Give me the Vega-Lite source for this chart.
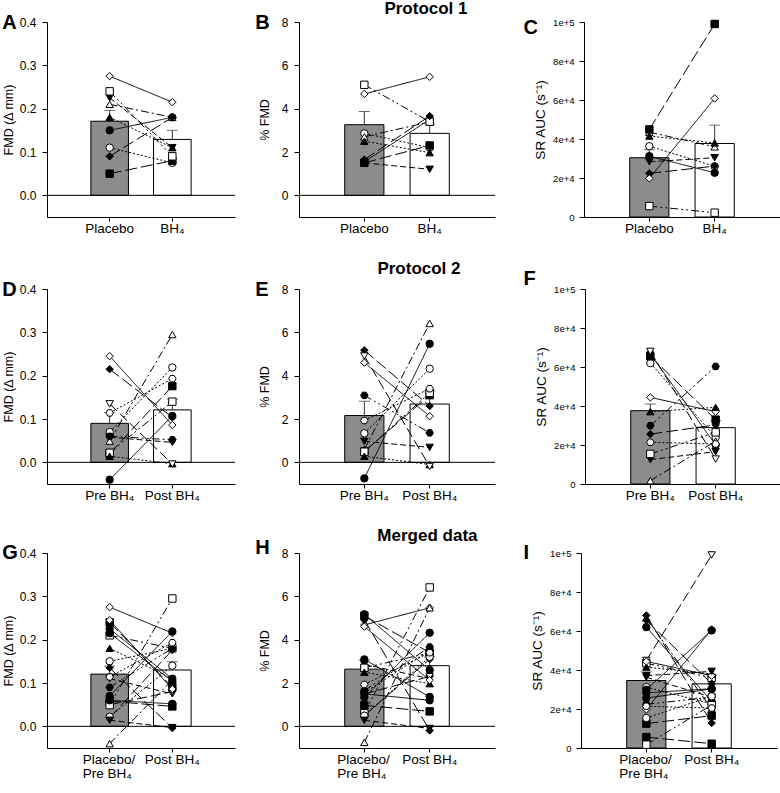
{
"$schema": "https://vega.github.io/schema/vega-lite/v6.json",
"padding": {"left": 2, "top": 0, "right": 0, "bottom": 0},
"config": {
 "font": "Liberation Sans",
 "view": {"stroke": null},
 "axis": {"domainColor": "black", "tickColor": "black", "labelColor": "black", "titleColor": "black", "grid": false, "titleFontWeight": "normal", "domainWidth": 1, "tickWidth": 1, "labelFont": "Liberation Sans", "titleFont": "Liberation Sans"},
 "title": {"color": "black", "font": "Liberation Sans", "fontWeight": "bold", "baseline": "alphabetic"}
},
"datasets": {
 "bars": [
  {"p": "A", "c": "pre", "mean": 0.171, "hi": 0.196}, {"p": "A", "c": "post", "mean": 0.129, "hi": 0.150},
  {"p": "B", "c": "pre", "mean": 3.26, "hi": 3.87}, {"p": "B", "c": "post", "mean": 2.86, "hi": 3.3},
  {"p": "C", "c": "pre", "mean": 30400, "hi": 34500}, {"p": "C", "c": "post", "mean": 37700, "hi": 47100},
  {"p": "D", "c": "pre", "mean": 0.09, "hi": 0.115}, {"p": "D", "c": "post", "mean": 0.121, "hi": 0.146},
  {"p": "E", "c": "pre", "mean": 2.16, "hi": 2.82}, {"p": "E", "c": "post", "mean": 2.69, "hi": 3.3},
  {"p": "F", "c": "pre", "mean": 37600, "hi": 41000}, {"p": "F", "c": "post", "mean": 28900, "hi": 32500},
  {"p": "G", "c": "pre", "mean": 0.1205, "hi": 0.139}, {"p": "G", "c": "post", "mean": 0.13, "hi": 0.149},
  {"p": "H", "c": "pre", "mean": 2.64, "hi": 3.05}, {"p": "H", "c": "post", "mean": 2.80, "hi": 3.2},
  {"p": "I", "c": "pre", "mean": 34600, "hi": 39000}, {"p": "I", "c": "post", "mean": 32900, "hi": 37500}
 ],
 "sub": [
  {"g": "1", "s": "1", "m": "2", "c": "pre", "fmd": 0.15, "pct": 1.55, "sr": 31200},
  {"g": "1", "s": "1", "m": "2", "c": "post", "fmd": 0.18, "pct": 3.5, "sr": 22700},
  {"g": "1", "s": "2", "m": "3", "c": "pre", "fmd": 0.11, "pct": 2.86, "sr": 36300},
  {"g": "1", "s": "2", "m": "3", "c": "post", "fmd": 0.075, "pct": 2.2, "sr": 26000},
  {"g": "1", "s": "3", "m": "1", "c": "pre", "fmd": 0.225, "pct": 1.5, "sr": 28300},
  {"g": "1", "s": "3", "m": "1", "c": "post", "fmd": 0.11, "pct": 1.2, "sr": 30400},
  {"g": "1", "s": "4", "m": "6", "c": "pre", "fmd": 0.21, "pct": 2.7, "sr": 43500},
  {"g": "1", "s": "4", "m": "6", "c": "post", "fmd": 0.18, "pct": 3.39, "sr": 36000},
  {"g": "1", "s": "5", "m": "10", "c": "pre", "fmd": 0.05, "pct": 1.5, "sr": 44900},
  {"g": "1", "s": "5", "m": "10", "c": "post", "fmd": 0.08, "pct": 2.3, "sr": 99000},
  {"g": "1", "s": "6", "m": "5", "c": "pre", "fmd": 0.24, "pct": 5.1, "sr": 5600},
  {"g": "1", "s": "6", "m": "5", "c": "post", "fmd": 0.09, "pct": 3.4, "sr": 2200},
  {"g": "1", "s": "7", "m": "11", "c": "pre", "fmd": 0.09, "pct": 1.65, "sr": 22400},
  {"g": "1", "s": "7", "m": "11", "c": "post", "fmd": 0.18, "pct": 3.66, "sr": 26100},
  {"g": "1", "s": "8", "m": "8", "c": "pre", "fmd": 0.275, "pct": 4.68, "sr": 19800},
  {"g": "1", "s": "8", "m": "8", "c": "post", "fmd": 0.215, "pct": 5.47, "sr": 60800},
  {"g": "1", "s": "9", "m": "9", "c": "pre", "fmd": 0.18, "pct": 2.5, "sr": 41500},
  {"g": "1", "s": "9", "m": "9", "c": "post", "fmd": 0.11, "pct": 1.97, "sr": 38000},
  {"g": "2", "s": "1", "m": "4", "c": "pre", "fmd": -0.04, "pct": -0.74, "sr": 66700},
  {"g": "2", "s": "1", "m": "4", "c": "post", "fmd": 0.107, "pct": 5.47, "sr": 20000},
  {"g": "2", "s": "2", "m": "1", "c": "pre", "fmd": 0.07, "pct": 1.34, "sr": 62000},
  {"g": "2", "s": "2", "m": "1", "c": "post", "fmd": 0.219, "pct": 4.32, "sr": 23900},
  {"g": "2", "s": "3", "m": "5", "c": "pre", "fmd": 0.058, "pct": 0.97, "sr": 12500},
  {"g": "2", "s": "3", "m": "5", "c": "post", "fmd": 0.046, "pct": 0.69, "sr": 16600},
  {"g": "2", "s": "4", "m": "6", "c": "pre", "fmd": 0.049, "pct": 0.6, "sr": 1700},
  {"g": "2", "s": "4", "m": "6", "c": "post", "fmd": 0.295, "pct": 6.41, "sr": 22000},
  {"g": "2", "s": "5", "m": "7", "c": "pre", "fmd": 0.02, "pct": 0.5, "sr": 65500},
  {"g": "2", "s": "5", "m": "7", "c": "post", "fmd": 0.176, "pct": 3.1, "sr": 33000},
  {"g": "2", "s": "6", "m": "2", "c": "pre", "fmd": 0.022, "pct": 0.49, "sr": 15400},
  {"g": "2", "s": "6", "m": "2", "c": "post", "fmd": 0.14, "pct": 3.21, "sr": 26500},
  {"g": "2", "s": "7", "m": "1", "c": "pre", "fmd": 0.215, "pct": 5.17, "sr": 25600},
  {"g": "2", "s": "7", "m": "1", "c": "post", "fmd": 0.104, "pct": 2.6, "sr": 30300},
  {"g": "2", "s": "8", "m": "8", "c": "pre", "fmd": 0.245, "pct": 4.6, "sr": 44400},
  {"g": "2", "s": "8", "m": "8", "c": "post", "fmd": 0.086, "pct": 2.13, "sr": 37100},
  {"g": "2", "s": "9", "m": "3", "c": "pre", "fmd": 0.014, "pct": 0.28, "sr": 37100},
  {"g": "2", "s": "9", "m": "3", "c": "post", "fmd": -0.003, "pct": -0.1, "sr": 39300},
  {"g": "2", "s": "10", "m": "7", "c": "pre", "fmd": 0.135, "pct": 4.91, "sr": 68000},
  {"g": "2", "s": "10", "m": "7", "c": "post", "fmd": -0.004, "pct": -0.19, "sr": 12800},
  {"g": "2", "s": "11", "m": "1", "c": "pre", "fmd": 0.06, "pct": 3.09, "sr": 29900},
  {"g": "2", "s": "11", "m": "1", "c": "post", "fmd": 0.052, "pct": 1.36, "sr": 60300},
  {"g": "2", "s": "12", "m": "12", "c": "pre", "fmd": 0.114, "pct": 1.93, "sr": 21400},
  {"g": "2", "s": "12", "m": "12", "c": "post", "fmd": 0.193, "pct": 3.4, "sr": 20500}
 ]
},
"spacing": 25,
"align": "none",
"vconcat": [
 {"align": "none", "spacing": 27, "hconcat": [
  {"align": "none", "spacing": 19, "title": {"text": "Protocol 1", "anchor": "end", "frame": "bounds", "dx": -28, "fontSize": 17, "offset": -5}, "hconcat": [
   {"width": 188, "height": 195, "title": {"text": "A", "anchor": "start", "frame": "bounds", "fontSize": 20, "offset": -17}, "layer": [
    {"data": {"name": "bars"}, "transform": [{"filter": "datum.p=='A'"}], "mark": {"type": "bar", "stroke": "black", "strokeWidth": 1},
     "encoding": {"x": {"field": "c", "type": "nominal", "scale": {"domain": ["pre", "post"], "paddingInner": 0.4, "paddingOuter": 0.7}},
      "y": {"field": "mean", "type": "quantitative", "scale": {"domain": [-0.05, 0.4], "nice": false, "zero": false}, "axis": {"values": [0, 0.1, 0.2, 0.3, 0.4], "tickCount": 6, "format": ".1f", "title": "FMD (Δ mm)", "titlePadding": 4, "tickSize": 5, "labelPadding": 6, "labelFontSize": 12, "titleFontSize": 12.5}},
      "y2": {"datum": 0}, "fill": {"condition": {"test": "datum.c=='pre'", "value": "#8c8c8c"}, "value": "white"}}},
    {"data": {"name": "bars"}, "transform": [{"filter": "datum.p=='A'"}], "mark": {"type": "rule", "color": "#333"},
     "encoding": {"x": {"field": "c", "type": "nominal"}, "y": {"field": "mean", "type": "quantitative"}, "y2": {"field": "hi"}}},
    {"data": {"name": "bars"}, "transform": [{"filter": "datum.p=='A'"}], "mark": {"type": "tick", "color": "#333", "size": 11, "thickness": 1},
     "encoding": {"x": {"field": "c", "type": "nominal"}, "y": {"field": "hi", "type": "quantitative"}}},
    {"data": {"name": "bars"}, "transform": [{"filter": "datum.p=='A' && datum.c=='pre'"}], "mark": {"type": "rule", "color": "black", "strokeWidth": 1},
     "encoding": {"y": {"datum": 0, "type": "quantitative"}}},
    {"data": {"name": "sub"}, "transform": [{"filter": "datum.g=='1'"}], "mark": {"type": "line", "color": "black", "strokeWidth": 1},
     "encoding": {"x": {"field": "c", "type": "nominal"}, "y": {"field": "fmd", "type": "quantitative"}, "detail": {"field": "s"},
      "strokeDash": {"field": "s", "type": "nominal", "legend": null, "scale": {"domain": ["1","2","3","4","5","6","7","8","9","10","11","12"], "range": [[1,0],[2,2],[6,3],[8,3,2,3],[12,4],[8,3,2,3,2,3],[12,4],[1,0],[2,2],[10,4],[8,3,2,3,2,3],[2,2]]}}}},
    {"data": {"name": "sub"}, "transform": [{"filter": "datum.g=='1'"}], "mark": {"type": "point", "filled": true, "stroke": "black", "strokeWidth": 1, "opacity": 1, "size": 55},
     "encoding": {"x": {"field": "c", "type": "nominal", "axis": {"title": null, "labelExpr": "datum.value=='pre'?'Placebo':'BH₄'", "tickSize": 4, "labelPadding": 7, "labelFontSize": 13.5, "labelAngle": 0, "labelAlign": "center"}}, "y": {"field": "fmd", "type": "quantitative"},
      "shape": {"field": "s", "type": "nominal", "legend": null, "scale": {"domain": ["1","2","3","4","5","6","7","8","9","10","11","12"], "range": ["circle","circle","triangle-down","triangle-up","square","square","diamond","diamond","triangle-up","triangle-down","M-1,0L-0.5,-0.866L0.5,-0.866L1,0L0.5,0.866L-0.5,0.866Z","M-1,0L-0.5,-0.866L0.5,-0.866L1,0L0.5,0.866L-0.5,0.866Z"]}},
      "fill": {"field": "s", "type": "nominal", "legend": null, "scale": {"domain": ["1","2","3","4","5","6","7","8","9","10","11","12"], "range": ["black","white","black","white","black","white","black","white","black","white","black","white"]}}}}
   ]},
   {"width": 196, "height": 195, "title": {"text": "B", "anchor": "start", "frame": "bounds", "fontSize": 20, "offset": -17, "dx": -3}, "layer": [
    {"data": {"name": "bars"}, "transform": [{"filter": "datum.p=='B'"}], "mark": {"type": "bar", "stroke": "black", "strokeWidth": 1},
     "encoding": {"x": {"field": "c", "type": "nominal", "scale": {"domain": ["pre", "post"], "paddingInner": 0.4, "paddingOuter": 0.7}},
      "y": {"field": "mean", "type": "quantitative", "scale": {"domain": [-1, 8], "nice": false, "zero": false}, "axis": {"values": [0, 2, 4, 6, 8], "tickCount": 6, "title": "% FMD", "titlePadding": 10, "tickSize": 5, "labelPadding": 6, "labelFontSize": 12, "titleFontSize": 12.5}},
      "y2": {"datum": 0}, "fill": {"condition": {"test": "datum.c=='pre'", "value": "#8c8c8c"}, "value": "white"}}},
    {"data": {"name": "bars"}, "transform": [{"filter": "datum.p=='B'"}], "mark": {"type": "rule", "color": "#333"},
     "encoding": {"x": {"field": "c", "type": "nominal"}, "y": {"field": "mean", "type": "quantitative"}, "y2": {"field": "hi"}}},
    {"data": {"name": "bars"}, "transform": [{"filter": "datum.p=='B'"}], "mark": {"type": "tick", "color": "#333", "size": 11, "thickness": 1},
     "encoding": {"x": {"field": "c", "type": "nominal"}, "y": {"field": "hi", "type": "quantitative"}}},
    {"data": {"name": "bars"}, "transform": [{"filter": "datum.p=='B' && datum.c=='pre'"}], "mark": {"type": "rule", "color": "black", "strokeWidth": 1},
     "encoding": {"y": {"datum": 0, "type": "quantitative"}}},
    {"data": {"name": "sub"}, "transform": [{"filter": "datum.g=='1'"}], "mark": {"type": "line", "color": "black", "strokeWidth": 1},
     "encoding": {"x": {"field": "c", "type": "nominal"}, "y": {"field": "pct", "type": "quantitative"}, "detail": {"field": "s"},
      "strokeDash": {"field": "s", "type": "nominal", "legend": null}}},
    {"data": {"name": "sub"}, "transform": [{"filter": "datum.g=='1'"}], "mark": {"type": "point", "filled": true, "stroke": "black", "strokeWidth": 1, "opacity": 1, "size": 55},
     "encoding": {"x": {"field": "c", "type": "nominal", "axis": {"title": null, "labelExpr": "datum.value=='pre'?'Placebo':'BH₄'", "tickSize": 4, "labelPadding": 7, "labelFontSize": 13.5, "labelAngle": 0, "labelAlign": "center"}}, "y": {"field": "pct", "type": "quantitative"},
      "shape": {"field": "s", "type": "nominal", "legend": null}, "fill": {"field": "s", "type": "nominal", "legend": null}}}
   ]}
  ]},
  {"width": 196, "height": 195, "title": {"text": "C", "anchor": "start", "frame": "bounds", "fontSize": 20, "offset": -20.5, "dx": -10}, "layer": [
    {"data": {"name": "bars"}, "transform": [{"filter": "datum.p=='C'"}], "mark": {"type": "bar", "stroke": "black", "strokeWidth": 1},
     "encoding": {"x": {"field": "c", "type": "nominal", "scale": {"domain": ["pre", "post"], "paddingInner": 0.4, "paddingOuter": 0.7}},
      "y": {"field": "mean", "type": "quantitative", "scale": {"domain": [0, 100000], "nice": false, "zero": false}, "axis": {"values": [0, 20000, 40000, 60000, 80000, 100000], "tickCount": 8, "labelExpr": "datum.value==0?'0':datum.value==100000?'1e+5':(datum.value/10000)+'e+4'", "labelOverlap": false, "labelFontSize": 9.5, "labelPadding": 5, "tickSize": 5, "title": "SR AUC (s⁻¹)", "titleFontSize": 13.5, "titlePadding": 5}},
      "y2": {"datum": 0}, "fill": {"condition": {"test": "datum.c=='pre'", "value": "#8c8c8c"}, "value": "white"}}},
    {"data": {"name": "bars"}, "transform": [{"filter": "datum.p=='C'"}], "mark": {"type": "rule", "color": "#333"},
     "encoding": {"x": {"field": "c", "type": "nominal"}, "y": {"field": "mean", "type": "quantitative"}, "y2": {"field": "hi"}}},
    {"data": {"name": "bars"}, "transform": [{"filter": "datum.p=='C'"}], "mark": {"type": "tick", "color": "#333", "size": 11, "thickness": 1},
     "encoding": {"x": {"field": "c", "type": "nominal"}, "y": {"field": "hi", "type": "quantitative"}}},
    {"data": {"name": "sub"}, "transform": [{"filter": "datum.g=='1'"}], "mark": {"type": "line", "color": "black", "strokeWidth": 1},
     "encoding": {"x": {"field": "c", "type": "nominal"}, "y": {"field": "sr", "type": "quantitative"}, "detail": {"field": "s"},
      "strokeDash": {"field": "s", "type": "nominal", "legend": null}}},
    {"data": {"name": "sub"}, "transform": [{"filter": "datum.g=='1'"}], "mark": {"type": "point", "filled": true, "stroke": "black", "strokeWidth": 1, "opacity": 1, "size": 55},
     "encoding": {"x": {"field": "c", "type": "nominal", "axis": {"title": null, "labelExpr": "datum.value=='pre'?'Placebo':'BH₄'", "tickSize": 4, "labelPadding": 7, "labelFontSize": 13.5, "labelAngle": 0, "labelAlign": "center"}}, "y": {"field": "sr", "type": "quantitative"},
      "shape": {"field": "s", "type": "nominal", "legend": null}, "fill": {"field": "s", "type": "nominal", "legend": null}}}
  ]}
 ]},
 {"align": "none", "spacing": 27, "hconcat": [
  {"align": "none", "spacing": 19, "title": {"text": "Protocol 2", "anchor": "end", "frame": "bounds", "dx": -35, "fontSize": 17, "offset": 2}, "hconcat": [
   {"width": 188, "height": 195, "title": {"text": "D", "anchor": "start", "frame": "bounds", "fontSize": 20, "offset": -17}, "layer": [
    {"data": {"name": "bars"}, "transform": [{"filter": "datum.p=='D'"}], "mark": {"type": "bar", "stroke": "black", "strokeWidth": 1},
     "encoding": {"x": {"field": "c", "type": "nominal", "scale": {"domain": ["pre", "post"], "paddingInner": 0.4, "paddingOuter": 0.7}},
      "y": {"field": "mean", "type": "quantitative", "scale": {"domain": [-0.05, 0.4], "nice": false, "zero": false}, "axis": {"values": [0, 0.1, 0.2, 0.3, 0.4], "tickCount": 6, "format": ".1f", "title": "FMD (Δ mm)", "titlePadding": 4, "tickSize": 5, "labelPadding": 6, "labelFontSize": 12, "titleFontSize": 12.5}},
      "y2": {"datum": 0}, "fill": {"condition": {"test": "datum.c=='pre'", "value": "#8c8c8c"}, "value": "white"}}},
    {"data": {"name": "bars"}, "transform": [{"filter": "datum.p=='D'"}], "mark": {"type": "rule", "color": "#333"},
     "encoding": {"x": {"field": "c", "type": "nominal"}, "y": {"field": "mean", "type": "quantitative"}, "y2": {"field": "hi"}}},
    {"data": {"name": "bars"}, "transform": [{"filter": "datum.p=='D'"}], "mark": {"type": "tick", "color": "#333", "size": 11, "thickness": 1},
     "encoding": {"x": {"field": "c", "type": "nominal"}, "y": {"field": "hi", "type": "quantitative"}}},
    {"data": {"name": "bars"}, "transform": [{"filter": "datum.p=='D' && datum.c=='pre'"}], "mark": {"type": "rule", "color": "black", "strokeWidth": 1},
     "encoding": {"y": {"datum": 0, "type": "quantitative"}}},
    {"data": {"name": "sub"}, "transform": [{"filter": "datum.g=='2'"}], "mark": {"type": "line", "color": "black", "strokeWidth": 1},
     "encoding": {"x": {"field": "c", "type": "nominal"}, "y": {"field": "fmd", "type": "quantitative"}, "detail": {"field": "s"},
      "strokeDash": {"field": "s", "type": "nominal", "legend": null}}},
    {"data": {"name": "sub"}, "transform": [{"filter": "datum.g=='2'"}], "mark": {"type": "point", "filled": true, "stroke": "black", "strokeWidth": 1, "opacity": 1, "size": 55},
     "encoding": {"x": {"field": "c", "type": "nominal", "axis": {"title": null, "labelExpr": "datum.value=='pre'?'Pre BH₄':'Post BH₄'", "tickSize": 4, "labelPadding": 7, "labelFontSize": 13.5, "labelAngle": 0, "labelAlign": "center"}}, "y": {"field": "fmd", "type": "quantitative"},
      "shape": {"field": "s", "type": "nominal", "legend": null}, "fill": {"field": "s", "type": "nominal", "legend": null}}}
   ]},
   {"width": 196, "height": 195, "title": {"text": "E", "anchor": "start", "frame": "bounds", "fontSize": 20, "offset": -17, "dx": -3}, "layer": [
    {"data": {"name": "bars"}, "transform": [{"filter": "datum.p=='E'"}], "mark": {"type": "bar", "stroke": "black", "strokeWidth": 1},
     "encoding": {"x": {"field": "c", "type": "nominal", "scale": {"domain": ["pre", "post"], "paddingInner": 0.4, "paddingOuter": 0.7}},
      "y": {"field": "mean", "type": "quantitative", "scale": {"domain": [-1, 8], "nice": false, "zero": false}, "axis": {"values": [0, 2, 4, 6, 8], "tickCount": 6, "title": "% FMD", "titlePadding": 10, "tickSize": 5, "labelPadding": 6, "labelFontSize": 12, "titleFontSize": 12.5}},
      "y2": {"datum": 0}, "fill": {"condition": {"test": "datum.c=='pre'", "value": "#8c8c8c"}, "value": "white"}}},
    {"data": {"name": "bars"}, "transform": [{"filter": "datum.p=='E'"}], "mark": {"type": "rule", "color": "#333"},
     "encoding": {"x": {"field": "c", "type": "nominal"}, "y": {"field": "mean", "type": "quantitative"}, "y2": {"field": "hi"}}},
    {"data": {"name": "bars"}, "transform": [{"filter": "datum.p=='E'"}], "mark": {"type": "tick", "color": "#333", "size": 11, "thickness": 1},
     "encoding": {"x": {"field": "c", "type": "nominal"}, "y": {"field": "hi", "type": "quantitative"}}},
    {"data": {"name": "bars"}, "transform": [{"filter": "datum.p=='E' && datum.c=='pre'"}], "mark": {"type": "rule", "color": "black", "strokeWidth": 1},
     "encoding": {"y": {"datum": 0, "type": "quantitative"}}},
    {"data": {"name": "sub"}, "transform": [{"filter": "datum.g=='2'"}], "mark": {"type": "line", "color": "black", "strokeWidth": 1},
     "encoding": {"x": {"field": "c", "type": "nominal"}, "y": {"field": "pct", "type": "quantitative"}, "detail": {"field": "s"},
      "strokeDash": {"field": "s", "type": "nominal", "legend": null}}},
    {"data": {"name": "sub"}, "transform": [{"filter": "datum.g=='2'"}], "mark": {"type": "point", "filled": true, "stroke": "black", "strokeWidth": 1, "opacity": 1, "size": 55},
     "encoding": {"x": {"field": "c", "type": "nominal", "axis": {"title": null, "labelExpr": "datum.value=='pre'?'Pre BH₄':'Post BH₄'", "tickSize": 4, "labelPadding": 7, "labelFontSize": 13.5, "labelAngle": 0, "labelAlign": "center"}}, "y": {"field": "pct", "type": "quantitative"},
      "shape": {"field": "s", "type": "nominal", "legend": null}, "fill": {"field": "s", "type": "nominal", "legend": null}}}
   ]}
  ]},
  {"width": 196, "height": 195, "title": {"text": "F", "anchor": "start", "frame": "bounds", "fontSize": 20, "offset": -4.75, "dx": -11}, "layer": [
    {"data": {"name": "bars"}, "transform": [{"filter": "datum.p=='F'"}], "mark": {"type": "bar", "stroke": "black", "strokeWidth": 1},
     "encoding": {"x": {"field": "c", "type": "nominal", "scale": {"domain": ["pre", "post"], "paddingInner": 0.4, "paddingOuter": 0.7}},
      "y": {"field": "mean", "type": "quantitative", "scale": {"domain": [0, 100000], "nice": false, "zero": false}, "axis": {"values": [0, 20000, 40000, 60000, 80000, 100000], "tickCount": 8, "labelExpr": "datum.value==0?'0':datum.value==100000?'1e+5':(datum.value/10000)+'e+4'", "labelOverlap": false, "labelFontSize": 9.5, "labelPadding": 5, "tickSize": 5, "title": "SR AUC (s⁻¹)", "titleFontSize": 13.5, "titlePadding": 5}},
      "y2": {"datum": 0}, "fill": {"condition": {"test": "datum.c=='pre'", "value": "#8c8c8c"}, "value": "white"}}},
    {"data": {"name": "bars"}, "transform": [{"filter": "datum.p=='F'"}], "mark": {"type": "rule", "color": "#333"},
     "encoding": {"x": {"field": "c", "type": "nominal"}, "y": {"field": "mean", "type": "quantitative"}, "y2": {"field": "hi"}}},
    {"data": {"name": "bars"}, "transform": [{"filter": "datum.p=='F'"}], "mark": {"type": "tick", "color": "#333", "size": 11, "thickness": 1},
     "encoding": {"x": {"field": "c", "type": "nominal"}, "y": {"field": "hi", "type": "quantitative"}}},
    {"data": {"name": "sub"}, "transform": [{"filter": "datum.g=='2'"}], "mark": {"type": "line", "color": "black", "strokeWidth": 1},
     "encoding": {"x": {"field": "c", "type": "nominal"}, "y": {"field": "sr", "type": "quantitative"}, "detail": {"field": "s"},
      "strokeDash": {"field": "s", "type": "nominal", "legend": null}}},
    {"data": {"name": "sub"}, "transform": [{"filter": "datum.g=='2'"}], "mark": {"type": "point", "filled": true, "stroke": "black", "strokeWidth": 1, "opacity": 1, "size": 55},
     "encoding": {"x": {"field": "c", "type": "nominal", "axis": {"title": null, "labelExpr": "datum.value=='pre'?'Pre BH₄':'Post BH₄'", "tickSize": 4, "labelPadding": 7, "labelFontSize": 13.5, "labelAngle": 0, "labelAlign": "center"}}, "y": {"field": "sr", "type": "quantitative"},
      "shape": {"field": "s", "type": "nominal", "legend": null}, "fill": {"field": "s", "type": "nominal", "legend": null}}}
  ]}
 ]},
 {"align": "none", "spacing": 27, "hconcat": [
  {"align": "none", "spacing": 19, "title": {"text": "Merged data", "anchor": "end", "frame": "bounds", "dx": -18, "fontSize": 17, "offset": -7}, "hconcat": [
   {"width": 188, "height": 195, "title": {"text": "G", "anchor": "start", "frame": "bounds", "fontSize": 20, "offset": -16}, "layer": [
    {"data": {"name": "bars"}, "transform": [{"filter": "datum.p=='G'"}], "mark": {"type": "bar", "stroke": "black", "strokeWidth": 1},
     "encoding": {"x": {"field": "c", "type": "nominal", "scale": {"domain": ["pre", "post"], "paddingInner": 0.4, "paddingOuter": 0.7}},
      "y": {"field": "mean", "type": "quantitative", "scale": {"domain": [-0.05, 0.4], "nice": false, "zero": false}, "axis": {"values": [0, 0.1, 0.2, 0.3, 0.4], "tickCount": 6, "format": ".1f", "title": "FMD (Δ mm)", "titlePadding": 4, "tickSize": 5, "labelPadding": 6, "labelFontSize": 12, "titleFontSize": 12.5}},
      "y2": {"datum": 0}, "fill": {"condition": {"test": "datum.c=='pre'", "value": "#8c8c8c"}, "value": "white"}}},
    {"data": {"name": "bars"}, "transform": [{"filter": "datum.p=='G'"}], "mark": {"type": "rule", "color": "#333"},
     "encoding": {"x": {"field": "c", "type": "nominal"}, "y": {"field": "mean", "type": "quantitative"}, "y2": {"field": "hi"}}},
    {"data": {"name": "bars"}, "transform": [{"filter": "datum.p=='G'"}], "mark": {"type": "tick", "color": "#333", "size": 11, "thickness": 1},
     "encoding": {"x": {"field": "c", "type": "nominal"}, "y": {"field": "hi", "type": "quantitative"}}},
    {"data": {"name": "bars"}, "transform": [{"filter": "datum.p=='G' && datum.c=='pre'"}], "mark": {"type": "rule", "color": "black", "strokeWidth": 1},
     "encoding": {"y": {"datum": 0, "type": "quantitative"}}},
    {"data": {"name": "sub"}, "mark": {"type": "line", "color": "black", "strokeWidth": 1},
     "encoding": {"x": {"field": "c", "type": "nominal"}, "y": {"field": "fmd", "type": "quantitative"}, "detail": [{"field": "g"}, {"field": "s"}],
      "strokeDash": {"field": "m", "type": "nominal", "legend": null}}},
    {"data": {"name": "sub"}, "mark": {"type": "point", "filled": true, "stroke": "black", "strokeWidth": 1, "opacity": 1, "size": 55},
     "encoding": {"x": {"field": "c", "type": "nominal", "axis": {"title": null, "labelExpr": "datum.value=='pre'?['Placebo/','Pre BH₄']:'Post BH₄'", "labelAlign": {"condition": {"test": "datum.value=='pre'", "value": "left"}, "value": "center"}, "labelOffset": {"condition": {"test": "datum.value=='pre'", "value": -27}, "value": 0}, "labelLineHeight": 14, "tickSize": 4, "labelPadding": 7, "labelFontSize": 13.5, "labelAngle": 0}}, "y": {"field": "fmd", "type": "quantitative"},
      "shape": {"field": "m", "type": "nominal", "legend": null}, "fill": {"field": "m", "type": "nominal", "legend": null}}}
   ]},
   {"width": 196, "height": 195, "title": {"text": "H", "anchor": "start", "frame": "bounds", "fontSize": 20, "offset": -11, "dx": -3}, "layer": [
    {"data": {"name": "bars"}, "transform": [{"filter": "datum.p=='H'"}], "mark": {"type": "bar", "stroke": "black", "strokeWidth": 1},
     "encoding": {"x": {"field": "c", "type": "nominal", "scale": {"domain": ["pre", "post"], "paddingInner": 0.4, "paddingOuter": 0.7}},
      "y": {"field": "mean", "type": "quantitative", "scale": {"domain": [-1, 8], "nice": false, "zero": false}, "axis": {"values": [0, 2, 4, 6, 8], "tickCount": 6, "title": "% FMD", "titlePadding": 10, "tickSize": 5, "labelPadding": 6, "labelFontSize": 12, "titleFontSize": 12.5}},
      "y2": {"datum": 0}, "fill": {"condition": {"test": "datum.c=='pre'", "value": "#8c8c8c"}, "value": "white"}}},
    {"data": {"name": "bars"}, "transform": [{"filter": "datum.p=='H'"}], "mark": {"type": "rule", "color": "#333"},
     "encoding": {"x": {"field": "c", "type": "nominal"}, "y": {"field": "mean", "type": "quantitative"}, "y2": {"field": "hi"}}},
    {"data": {"name": "bars"}, "transform": [{"filter": "datum.p=='H'"}], "mark": {"type": "tick", "color": "#333", "size": 11, "thickness": 1},
     "encoding": {"x": {"field": "c", "type": "nominal"}, "y": {"field": "hi", "type": "quantitative"}}},
    {"data": {"name": "bars"}, "transform": [{"filter": "datum.p=='H' && datum.c=='pre'"}], "mark": {"type": "rule", "color": "black", "strokeWidth": 1},
     "encoding": {"y": {"datum": 0, "type": "quantitative"}}},
    {"data": {"name": "sub"}, "mark": {"type": "line", "color": "black", "strokeWidth": 1},
     "encoding": {"x": {"field": "c", "type": "nominal"}, "y": {"field": "pct", "type": "quantitative"}, "detail": [{"field": "g"}, {"field": "s"}],
      "strokeDash": {"field": "m", "type": "nominal", "legend": null}}},
    {"data": {"name": "sub"}, "mark": {"type": "point", "filled": true, "stroke": "black", "strokeWidth": 1, "opacity": 1, "size": 55},
     "encoding": {"x": {"field": "c", "type": "nominal", "axis": {"title": null, "labelExpr": "datum.value=='pre'?['Placebo/','Pre BH₄']:'Post BH₄'", "labelAlign": {"condition": {"test": "datum.value=='pre'", "value": "left"}, "value": "center"}, "labelOffset": {"condition": {"test": "datum.value=='pre'", "value": -27}, "value": 0}, "labelLineHeight": 14, "tickSize": 4, "labelPadding": 7, "labelFontSize": 13.5, "labelAngle": 0}}, "y": {"field": "pct", "type": "quantitative"},
      "shape": {"field": "m", "type": "nominal", "legend": null}, "fill": {"field": "m", "type": "nominal", "legend": null}}}
   ]}
  ]},
  {"width": 196, "height": 195, "title": {"text": "I", "anchor": "start", "frame": "bounds", "fontSize": 20, "offset": -14.5, "dx": -7}, "layer": [
    {"data": {"name": "bars"}, "transform": [{"filter": "datum.p=='I'"}], "mark": {"type": "bar", "stroke": "black", "strokeWidth": 1},
     "encoding": {"x": {"field": "c", "type": "nominal", "scale": {"domain": ["pre", "post"], "paddingInner": 0.4, "paddingOuter": 0.7}},
      "y": {"field": "mean", "type": "quantitative", "scale": {"domain": [0, 100000], "nice": false, "zero": false}, "axis": {"values": [0, 20000, 40000, 60000, 80000, 100000], "tickCount": 8, "labelExpr": "datum.value==0?'0':datum.value==100000?'1e+5':(datum.value/10000)+'e+4'", "labelOverlap": false, "labelFontSize": 9.5, "labelPadding": 5, "tickSize": 5, "title": "SR AUC (s⁻¹)", "titleFontSize": 13.5, "titlePadding": 5}},
      "y2": {"datum": 0}, "fill": {"condition": {"test": "datum.c=='pre'", "value": "#8c8c8c"}, "value": "white"}}},
    {"data": {"name": "bars"}, "transform": [{"filter": "datum.p=='I'"}], "mark": {"type": "rule", "color": "#333"},
     "encoding": {"x": {"field": "c", "type": "nominal"}, "y": {"field": "mean", "type": "quantitative"}, "y2": {"field": "hi"}}},
    {"data": {"name": "bars"}, "transform": [{"filter": "datum.p=='I'"}], "mark": {"type": "tick", "color": "#333", "size": 11, "thickness": 1},
     "encoding": {"x": {"field": "c", "type": "nominal"}, "y": {"field": "hi", "type": "quantitative"}}},
    {"data": {"name": "sub"}, "mark": {"type": "line", "color": "black", "strokeWidth": 1},
     "encoding": {"x": {"field": "c", "type": "nominal"}, "y": {"field": "sr", "type": "quantitative"}, "detail": [{"field": "g"}, {"field": "s"}],
      "strokeDash": {"field": "m", "type": "nominal", "legend": null}}},
    {"data": {"name": "sub"}, "mark": {"type": "point", "filled": true, "stroke": "black", "strokeWidth": 1, "opacity": 1, "size": 55},
     "encoding": {"x": {"field": "c", "type": "nominal", "axis": {"title": null, "labelExpr": "datum.value=='pre'?['Placebo/','Pre BH₄']:'Post BH₄'", "labelAlign": {"condition": {"test": "datum.value=='pre'", "value": "left"}, "value": "center"}, "labelOffset": {"condition": {"test": "datum.value=='pre'", "value": -27}, "value": 0}, "labelLineHeight": 14, "tickSize": 4, "labelPadding": 7, "labelFontSize": 13.5, "labelAngle": 0}}, "y": {"field": "sr", "type": "quantitative"},
      "shape": {"field": "m", "type": "nominal", "legend": null}, "fill": {"field": "m", "type": "nominal", "legend": null}}}
  ]}
 ]}
]
}
